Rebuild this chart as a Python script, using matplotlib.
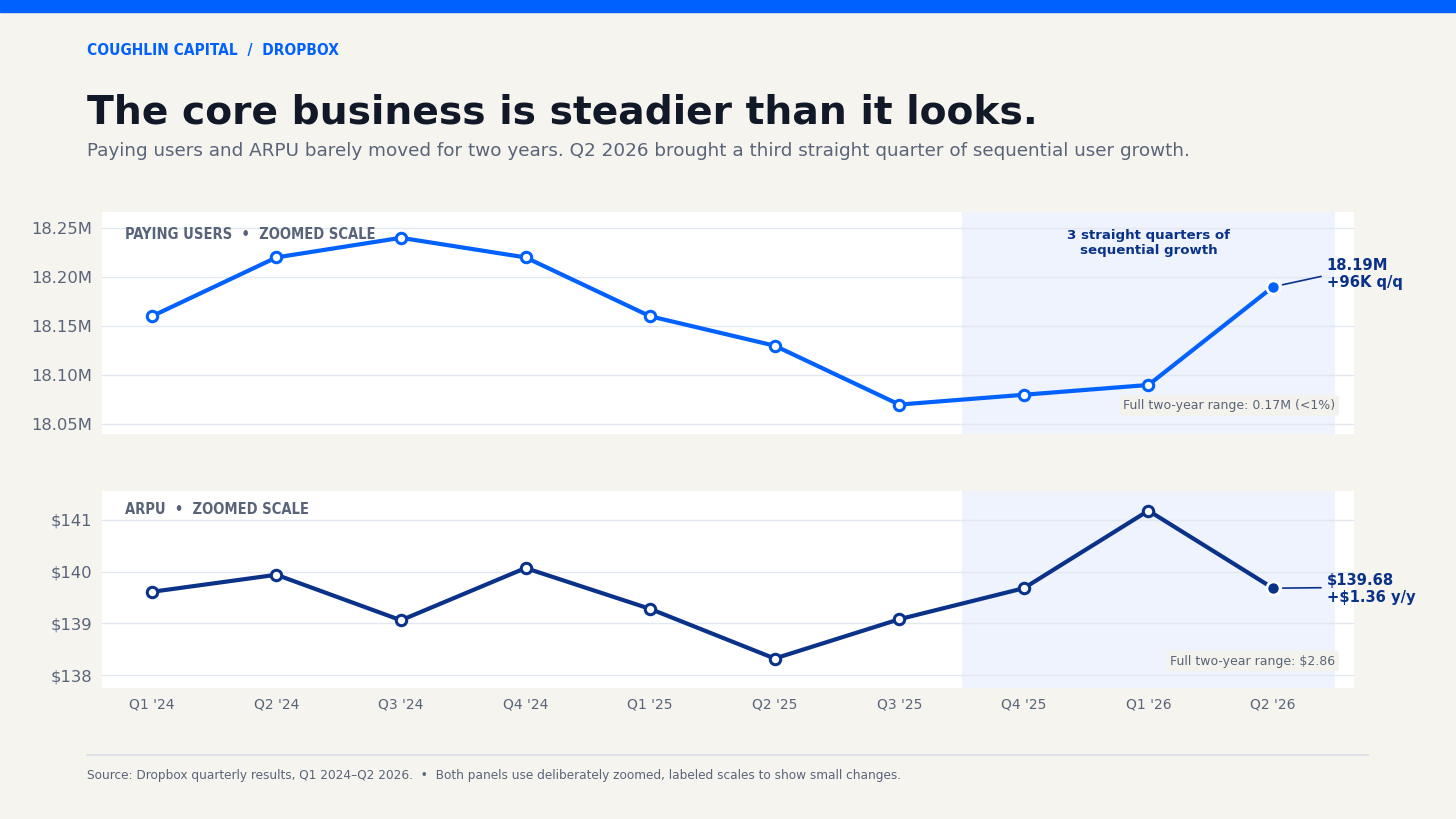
import matplotlib
matplotlib.use("Agg")
import matplotlib.pyplot as plt
from matplotlib.patches import Rectangle
from matplotlib.lines import Line2D

# Data
quarters = ["Q1 '24", "Q2 '24", "Q3 '24", "Q4 '24", "Q1 '25",
            "Q2 '25", "Q3 '25", "Q4 '25", "Q1 '26", "Q2 '26"]
paying_users_m = [18.16, 18.22, 18.24, 18.22, 18.16, 18.13, 18.07, 18.08, 18.09, 18.19]
arpu = [139.61, 139.94, 139.06, 140.07, 139.28, 138.32, 139.08, 139.68, 141.18, 139.68]
users_ticks = [18.05, 18.10, 18.15, 18.20, 18.25]
arpu_ticks = [138, 139, 140, 141]

# Colours
BG = "#F5F4EF"
BLUE = "#0061FE"
NAVY = "#0B3289"
INK = "#111827"
GREY = "#5A6478"
GRID = "#E3E7EF"
SHADE = "#EEF3FD"

plt.rcParams['font.family'] = ['DejaVu Sans']

fig = plt.figure(figsize=(14.56, 8.19), dpi=100, facecolor=BG)

# top brand bar
fig.patches.append(Rectangle((0, 1 - 12 / 819), 1, 12 / 819, transform=fig.transFigure,
                             color=BLUE, zorder=0))

fig.text(87 / 1456, 1 - 50 / 819, "COUGHLIN CAPITAL  /  DROPBOX", color=BLUE,
         fontsize=11.1, fontweight="bold", fontstretch="condensed", va="center")
fig.text(87 / 1456, 1 - 112 / 819, "The core business is steadier than it looks.",
         color=INK, fontsize=28.3, fontweight="bold", va="center")
fig.text(87 / 1456, 1 - 151 / 819,
         "Paying users and ARPU barely moved for two years. Q2 2026 brought a third "
         "straight quarter of sequential user growth.",
         color=GREY, fontsize=13.2, va="center")

x = list(range(len(quarters)))

ax1 = fig.add_axes([102 / 1456, 1 - 434 / 819, 1252 / 1456, 222 / 819])
ax2 = fig.add_axes([102 / 1456, 1 - 688 / 819, 1252 / 1456, 197 / 819])


def style_axis(ax, ticks, labels):
    ax.set_facecolor("white")
    for s in ax.spines.values():
        s.set_visible(False)
    ax.set_xlim(-0.4, 9.65)
    ax.set_yticks(ticks)
    ax.set_yticklabels(labels)
    ax.tick_params(axis="y", length=0, labelsize=11.8, labelcolor=GREY, pad=7)
    ax.tick_params(axis="x", length=0, labelsize=10, labelcolor=GREY, pad=7)
    ax.grid(axis="y", color=GRID, lw=1)
    ax.set_axisbelow(True)
    ax.axvspan(6.5, 9.5, color=SHADE, zorder=0.5, lw=0)


style_axis(ax1, users_ticks, [f"{t:.2f}M" for t in users_ticks])
ax1.set_ylim(18.040, 18.2663)
ax1.set_xticks(x)
ax1.set_xticklabels([])
ax1.plot(x, paying_users_m, color=BLUE, lw=3, zorder=3, solid_capstyle="round")
ax1.plot(x[:-1], paying_users_m[:-1], "o", ms=7.5, mfc="white", mec=BLUE, mew=2.2, zorder=4)
ax1.plot(x[-1], paying_users_m[-1], "o", ms=9.5, mfc=BLUE, mec="white", mew=2, zorder=5)
ax1.text(0.018, 0.9, "PAYING USERS  \u2022  ZOOMED SCALE", transform=ax1.transAxes,
         color=GREY, fontsize=10.5, fontweight="bold", fontstretch="condensed", va="center")
ax1.text(8.0, 18.2347, "3 straight quarters of\nsequential growth", color=NAVY,
         fontsize=9.6, fontweight="bold", ha="center", va="center", linespacing=1.2)
ax1.annotate("18.19M\n+96K q/q", xy=(x[-1], paying_users_m[-1]), xytext=(9.43, 18.2035),
             textcoords="data", color=NAVY, fontsize=10.6, fontweight="bold",
             va="center", ha="left", linespacing=1.15, annotation_clip=False,
             arrowprops=dict(arrowstyle="-", color=NAVY, lw=1.2, shrinkA=2, shrinkB=7,
                             relpos=(0, 0.45)))
ax1.text(9.5, 18.069, "Full two-year range: 0.17M (<1%)", color=GREY, fontsize=9,
         ha="right", va="center",
         bbox=dict(boxstyle="round,pad=0.3,rounding_size=0.3", fc="#F3F2EC", ec="none"))

style_axis(ax2, arpu_ticks, [f"${t}" for t in arpu_ticks])
ax2.set_ylim(137.75, 141.56)
ax2.set_xticks(x)
ax2.set_xticklabels(quarters)
ax2.plot(x, arpu, color=NAVY, lw=3, zorder=3, solid_capstyle="round")
ax2.plot(x[:-1], arpu[:-1], "o", ms=7.5, mfc="white", mec=NAVY, mew=2.2, zorder=4)
ax2.plot(x[-1], arpu[-1], "o", ms=9.5, mfc=NAVY, mec="white", mew=2, zorder=5)
ax2.text(0.018, 0.905, "ARPU  \u2022  ZOOMED SCALE", transform=ax2.transAxes,
         color=GREY, fontsize=10.5, fontweight="bold", fontstretch="condensed", va="center")
ax2.annotate("$139.68\n+$1.36 y/y", xy=(x[-1], arpu[-1]), xytext=(9.43, 139.66),
             textcoords="data", color=NAVY, fontsize=10.6, fontweight="bold",
             va="center", ha="left", linespacing=1.15, annotation_clip=False,
             arrowprops=dict(arrowstyle="-", color=NAVY, lw=1.2, shrinkA=2, shrinkB=7,
                             relpos=(0, 0.55)))
ax2.text(9.5, 138.27, "Full two-year range: $2.86", color=GREY, fontsize=9,
         ha="right", va="center",
         bbox=dict(boxstyle="round,pad=0.3,rounding_size=0.3", fc="#F3F2EC", ec="none"))

# footer
fig.lines.append(Line2D([87 / 1456, 1368 / 1456], [1 - 755 / 819] * 2,
                        transform=fig.transFigure, color="#D9DDE5", lw=1.2))
fig.text(87 / 1456, 1 - 776 / 819,
         "Source: Dropbox quarterly results, Q1 2024\u2013Q2 2026.  \u2022  Both panels use "
         "deliberately zoomed, labeled scales to show small changes.",
         color=GREY, fontsize=8.7, va="center")

fig.savefig("out.png", dpi=100, facecolor=BG)
